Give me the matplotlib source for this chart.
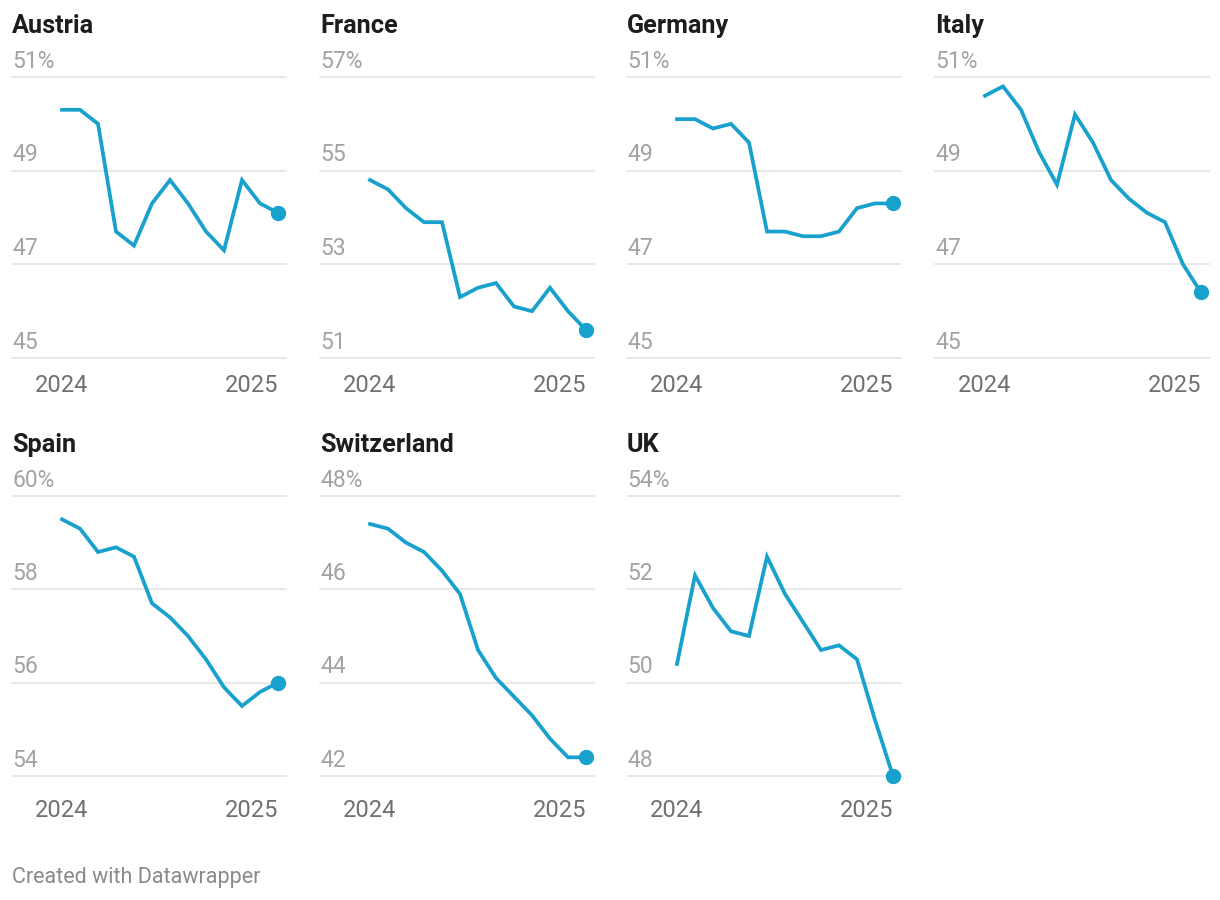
import matplotlib.pyplot as plt
import matplotlib.transforms as mtransforms

plt.rcParams['font.family'] = ['Roboto', 'DejaVu Sans']

# monthly values, Jan 2024 .. Jan 2025
countries = ['Austria', 'France', 'Germany', 'Italy', 'Spain', 'Switzerland', 'UK']
austria = [50.3, 50.3, 50.0, 47.7, 47.4, 48.3, 48.8, 48.3, 47.7, 47.3, 48.8, 48.3, 48.1]
france = [54.8, 54.6, 54.2, 53.9, 53.9, 52.3, 52.5, 52.6, 52.1, 52.0, 52.5, 52.0, 51.6]
germany = [50.1, 50.1, 49.9, 50.0, 49.6, 47.7, 47.7, 47.6, 47.6, 47.7, 48.2, 48.3, 48.3]
italy = [50.6, 50.8, 50.3, 49.4, 48.7, 50.2, 49.6, 48.8, 48.4, 48.1, 47.9, 47.0, 46.4]
spain = [59.5, 59.3, 58.8, 58.9, 58.7, 57.7, 57.4, 57.0, 56.5, 55.9, 55.5, 55.8, 56.0]
switzerland = [47.4, 47.3, 47.0, 46.8, 46.4, 45.9, 44.7, 44.1, 43.7, 43.3, 42.8, 42.4, 42.4]
uk = [50.4, 52.3, 51.6, 51.1, 51.0, 52.7, 51.9, 51.3, 50.7, 50.8, 50.5, 49.2, 48.0]
series = [austria, france, germany, italy, spain, switzerland, uk]

# y tick values per panel (lowest to highest)
y_ticks = {
    'Austria': [45, 47, 49, 51],
    'France': [51, 53, 55, 57],
    'Germany': [45, 47, 49, 51],
    'Italy': [45, 47, 49, 51],
    'Spain': [54, 56, 58, 60],
    'Switzerland': [42, 44, 46, 48],
    'UK': [48, 50, 52, 54],
}
x_labels = ['2024', '2025']

W, H = 1220, 900
BLUE = '#18a1cd'
GRID = '#e2e2e2'
TICK_GREY = '#a3a3a3'
X_GREY = '#707070'

fig = plt.figure(figsize=(W / 100, H / 100), dpi=100)

col_left = [12, 320, 627, 935]
panel_w = 274
row_top = [77, 496]
row_bot = [358, 776]
title_base = [33, 452]
xlab_base = [392, 817]

# data index 0 sits 50px in, index 12 sits 266px in
px_per = 216 / 12
xmin = -50 / px_per
xmax = 12 + (panel_w - 266) / px_per

for i, name in enumerate(countries):
    r, c = divmod(i, 4)
    left = col_left[c]
    top, bot = row_top[r], row_bot[r]
    ax = fig.add_axes([left / W, 1 - bot / H, panel_w / W, (bot - top) / H])
    ticks = y_ticks[name]
    ax.set_xlim(xmin, xmax)
    ax.set_ylim(ticks[0], ticks[-1])
    ax.axis('off')

    lab_tr = mtransforms.offset_copy(ax.transData, fig=fig, y=6.8, units='points')
    for j, t in enumerate(ticks):
        ax.axhline(t, color=GRID, lw=1.1, zorder=1, clip_on=False)
        lab = f'{t}%' if j == len(ticks) - 1 else str(t)
        ax.text(xmin, t, lab, transform=lab_tr, ha='left', va='baseline',
                fontsize=16.5, color=TICK_GREY)

    vals = series[i]
    xs = list(range(len(vals)))
    ax.plot(xs, vals, color=BLUE, lw=2.7, solid_joinstyle='miter', zorder=3, clip_on=False)
    ax.plot(xs[-1], vals[-1], 'o', color=BLUE, markersize=10, zorder=4, clip_on=False)

    fig.text(left / W, 1 - title_base[r] / H, name, ha='left', va='baseline',
             fontsize=18.2, fontweight='bold', color='#1d1d1d')

    # x labels: first centred on Jan 2024, last right-aligned at Jan 2025
    x0_px = left + 50
    x1_px = left + 266
    fig.text(x0_px / W, 1 - xlab_base[r] / H, x_labels[0], ha='center', va='baseline',
             fontsize=17, color=X_GREY)
    fig.text(x1_px / W, 1 - xlab_base[r] / H, x_labels[1], ha='right', va='baseline',
             fontsize=17, color=X_GREY)

fig.text(12 / W, 1 - 883 / H, 'Created with Datawrapper', ha='left', va='baseline',
         fontsize=15.5, color='#8a8a8a')

fig.savefig('out.png', dpi=100, facecolor='white')
